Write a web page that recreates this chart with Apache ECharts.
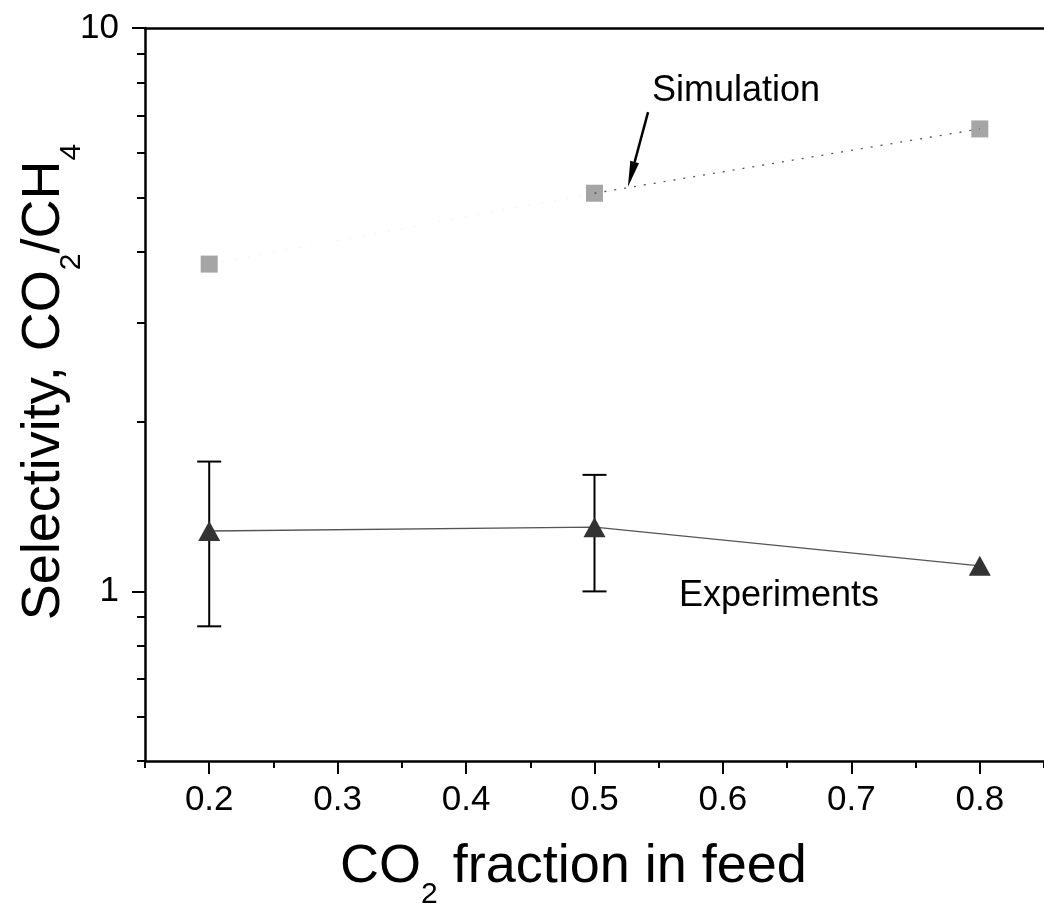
<!DOCTYPE html>
<html>
<head>
<meta charset="utf-8">
<script src="https://cdn.jsdelivr.net/npm/echarts@6/dist/echarts.min.js"></script>
<style>
  html, body { margin: 0; padding: 0; background: #fff; }
  #chart { width: 1044px; height: 913px; }
</style>
</head>
<body>
<div id="chart"></div>
<script>
// CO2 fraction in feed
const feedFraction = [0.2, 0.5, 0.8]
// selectivity values
const simulation = [3.81, 5.09, 6.62]
const experiments = [1.28, 1.30, 1.11]
const expLow = [0.867, 1.0, 1.11]
const expHigh = [1.70, 1.61, 1.11]

const xMajorTicks = [0.2, 0.3, 0.4, 0.5, 0.6, 0.7, 0.8]
const xMinorTicks = [0.15, 0.25, 0.35, 0.45, 0.55, 0.65, 0.75, 0.85]
const yMajorTicks = [1, 10]
const yMinorTicks = [0.5, 0.6, 0.7, 0.8, 0.9, 2, 3, 4, 5, 6, 7, 8, 9]

// arrow from "Simulation" label down to the 0.5 point
const arrowFrom = [0.5417, 7.09]
const arrowTo = [0.526, 5.22]

const FONT = '"Liberation Sans", Arial, Helvetica, sans-serif'
const X_MIN = 0.15, X_MAX = 0.85, Y_MIN = 0.5, Y_MAX = 10

const chart = echarts.init(document.getElementById('chart'))

const errData = feedFraction
  .map((x, i) => [x, expLow[i], expHigh[i]])
  .filter(d => d[1] < d[2])

const axisLine = { show: true, lineStyle: { color: '#000', width: 2.5 } }

const option = {
  animation: false,
  backgroundColor: '#fff',
  grid: { left: 145, right: 0, top: 28, bottom: 152, containLabel: false, outerBoundsMode: 'none' },
  xAxis: [
    {
      type: 'value', min: X_MIN, max: X_MAX, position: 'bottom',
      axisLine,
      axisTick: { show: true, customValues: xMajorTicks, length: 13, lineStyle: { color: '#000', width: 2 } },
      axisLabel: {
        customValues: xMajorTicks, formatter: v => v.toFixed(1),
        fontSize: 35, fontFamily: FONT, color: '#000', margin: 22
      },
      splitLine: { show: false }
    },
    {
      type: 'value', min: X_MIN, max: X_MAX, position: 'bottom',
      axisLine: { show: false },
      axisTick: { show: true, customValues: xMinorTicks, length: 7, lineStyle: { color: '#000', width: 2 } },
      axisLabel: { show: false },
      splitLine: { show: false }
    },
    {
      type: 'value', min: X_MIN, max: X_MAX, position: 'top',
      axisLine, axisTick: { show: false }, axisLabel: { show: false }, splitLine: { show: false }
    }
  ],
  yAxis: [
    {
      type: 'log', min: Y_MIN, max: Y_MAX, position: 'left',
      axisLine,
      axisTick: { show: true, customValues: yMajorTicks, length: 13, lineStyle: { color: '#000', width: 2 } },
      axisLabel: {
        customValues: yMajorTicks, formatter: v => String(Math.round(v)),
        fontSize: 35, fontFamily: FONT, color: '#000', margin: 26
      },
      splitLine: { show: false }
    },
    {
      type: 'log', min: Y_MIN, max: Y_MAX, position: 'left',
      axisLine: { show: false },
      axisTick: { show: true, customValues: yMinorTicks, length: 8, lineStyle: { color: '#000', width: 2 } },
      axisLabel: { show: false },
      splitLine: { show: false }
    }
  ],
  series: [
    {
      // faint dotted simulation trend, barely visible in the print
      type: 'line', xAxisIndex: 0, yAxisIndex: 0,
      data: feedFraction.slice(0, 2).map((x, i) => [x, simulation[i]]),
      symbol: 'none', silent: true,
      lineStyle: { color: '#bbb', width: 1, type: [1, 12], opacity: 0.35 }
    },
    {
      type: 'line', xAxisIndex: 0, yAxisIndex: 0,
      data: feedFraction.slice(1).map((x, i) => [x, simulation[i + 1]]),
      symbol: 'none', silent: true,
      lineStyle: { color: '#555', width: 1.3, type: [2, 8] }
    },
    {
      type: 'scatter', xAxisIndex: 0, yAxisIndex: 0,
      data: feedFraction.map((x, i) => [x, simulation[i]]),
      symbol: 'rect', symbolSize: 17,
      itemStyle: { color: '#8f8f8f' }
    },
    {
      type: 'custom', xAxisIndex: 0, yAxisIndex: 0,
      data: errData,
      renderItem: (params, api) => {
        const x = api.value(0)
        const lo = api.coord([x, api.value(1)])
        const hi = api.coord([x, api.value(2)])
        const w = 12
        const st = { stroke: '#000', lineWidth: 2 }
        return {
          type: 'group',
          children: [
            { type: 'line', shape: { x1: lo[0], y1: lo[1], x2: hi[0], y2: hi[1] }, style: st },
            { type: 'line', shape: { x1: hi[0] - w, y1: hi[1], x2: hi[0] + w, y2: hi[1] }, style: st },
            { type: 'line', shape: { x1: lo[0] - w, y1: lo[1], x2: lo[0] + w, y2: lo[1] }, style: st }
          ]
        }
      }
    },
    {
      type: 'line', xAxisIndex: 0, yAxisIndex: 0,
      data: feedFraction.map((x, i) => [x, experiments[i]]),
      symbol: 'triangle', symbolSize: [22, 20], showSymbol: true,
      itemStyle: { color: '#333' },
      lineStyle: { color: '#555', width: 1.3 }
    }
  ]
}

chart.setOption(option)

// annotations: labels, axis titles with subscripts, arrow (arrow anchored in data space)
const p0 = chart.convertToPixel({ xAxisIndex: 0, yAxisIndex: 0 }, arrowFrom)
const p1 = chart.convertToPixel({ xAxisIndex: 0, yAxisIndex: 0 }, arrowTo)
const dx = p1[0] - p0[0], dy = p1[1] - p0[1]
const len = Math.hypot(dx, dy)
const ux = dx / len, uy = dy / len
const headLen = 26, headW = 4.5
const base = [p1[0] - ux * headLen, p1[1] - uy * headLen]

const titleRich = {
  a: { fontSize: 54, fontFamily: FONT, lineHeight: 54, verticalAlign: 'top', fill: '#000' },
  s: { fontSize: 30, fontFamily: FONT, lineHeight: 30, verticalAlign: 'top', padding: [40, 0, 0, 0], fill: '#000' }
}

chart.setOption({
  graphic: [
    {
      type: 'text', x: 820, y: 91,
      style: { text: 'Simulation', font: '36px ' + FONT, fill: '#000', align: 'right', verticalAlign: 'middle' }
    },
    {
      type: 'text', x: 679, y: 596,
      style: { text: 'Experiments', font: '36px ' + FONT, fill: '#000', align: 'left', verticalAlign: 'middle' }
    },
    {
      type: 'line',
      shape: { x1: p0[0], y1: p0[1], x2: base[0], y2: base[1] },
      style: { stroke: '#000', lineWidth: 2.5 }
    },
    {
      type: 'polygon',
      shape: {
        points: [
          [p1[0], p1[1]],
          [base[0] - uy * headW, base[1] + ux * headW],
          [base[0] + uy * headW, base[1] - ux * headW]
        ]
      },
      style: { fill: '#000' }
    },
    {
      type: 'text', x: 340, y: 840,
      style: {
        text: '{a|CO}{s|2}{a| fraction in feed}', rich: titleRich,
        align: 'left', verticalAlign: 'top'
      }
    },
    {
      type: 'text', x: 17, y: 382, rotation: Math.PI / 2,
      style: {
        text: '{a|Selectivity, CO}{s|2}{a|/CH}{s|4}', rich: titleRich,
        align: 'center', verticalAlign: 'top'
      }
    }
  ]
})
</script>
</body>
</html>
